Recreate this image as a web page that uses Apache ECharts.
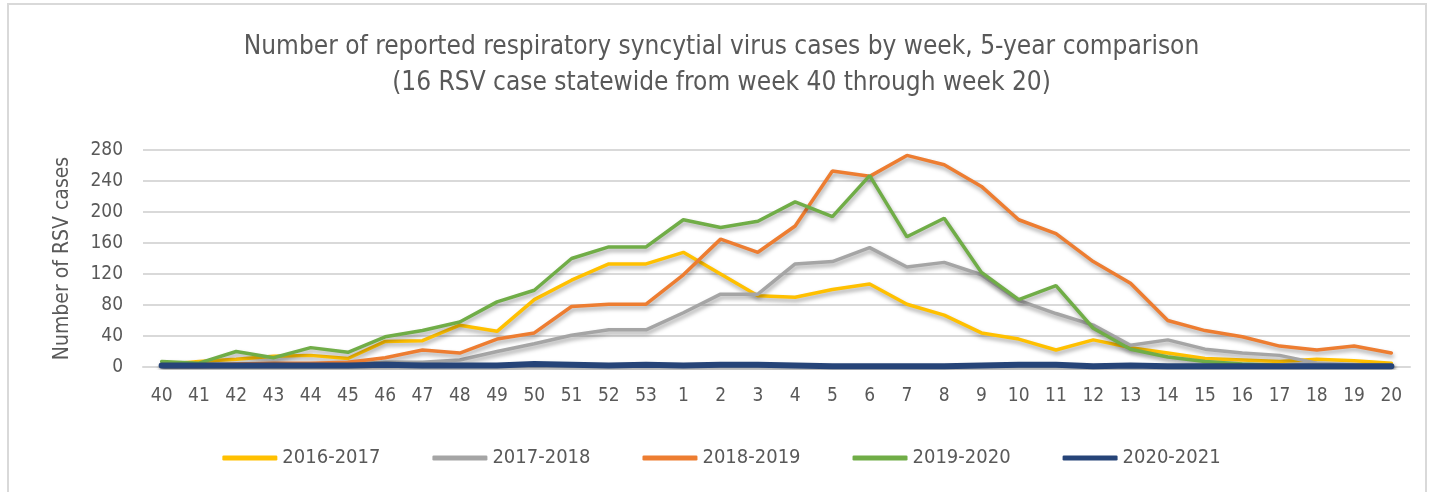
<!DOCTYPE html>
<html>
<head>
<meta charset="utf-8">
<script src="https://cdn.jsdelivr.net/npm/echarts@6/dist/echarts.min.js"></script>
<style>
  html, body { margin: 0; padding: 0; background: #fff; }
  #myChart { width: 1443px; height: 492px; }
</style>
</head>
<body>
<div id="myChart"></div>
<script>
// week labels (season runs week 40 through week 20)
var weeks = ['40', '41', '42', '43', '44', '45', '46', '47', '48', '49', '50', '51', '52', '53',
  '1', '2', '3', '4', '5', '6', '7', '8', '9', '10', '11', '12', '13', '14', '15', '16', '17', '18', '19', '20'];
var yTicks = [0, 40, 80, 120, 160, 200, 240, 280];

var s2016 = [3, 7, 10, 14, 15, 11, 33, 34, 54, 46, 87, 112, 133, 133, 148, 120, 92, 90, 100, 107, 81, 67, 44, 36, 22, 35, 25, 18, 11, 9, 7, 10, 8, 5];
var s2017 = [2, 2, 3, 3, 4, 4, 6, 6, 9, 20, 30, 41, 48, 48, 70, 94, 94, 133, 136, 154, 129, 135, 119, 86, 69, 54, 28, 35, 23, 18, 15, 5, 3, 2];
var s2018 = [1, 2, 4, 5, 5, 6, 12, 22, 18, 36, 44, 78, 81, 81, 119, 165, 148, 182, 253, 246, 273, 261, 233, 190, 172, 136, 108, 60, 47, 39, 27, 22, 27, 18];
var s2019 = [7, 5, 20, 12, 25, 19, 39, 47, 58, 84, 99, 140, 155, 155, 190, 180, 188, 213, 194, 247, 168, 192, 122, 87, 105, 50, 23, 13, 7, 4, 2, 1, 1, 1];
var s2020 = [2, 2, 2, 2, 2, 2, 3, 2, 2, 2, 4, 3, 2, 3, 2, 3, 3, 2, 1, 1, 1, 1, 2, 3, 3, 1, 2, 1, 1, 1, 1, 1, 1, 1];

var FONT = "'DejaVu Sans Condensed', 'Liberation Sans Narrow', sans-serif";
var TXT = '#595959';

function line(name, data, color, width) {
  return {
    name: name,
    type: 'line',
    data: data,
    symbol: 'none',
    lineStyle: {
      color: color,
      width: width,
      cap: 'round',
      shadowColor: 'rgba(0,0,0,0.35)',
      shadowBlur: 4,
      shadowOffsetX: 1,
      shadowOffsetY: 3
    },
    itemStyle: { color: color }
  };
}

var myChart = echarts.init(document.getElementById('myChart'));
var option = {
  animation: false,
  textStyle: { fontFamily: FONT },
  graphic: [{
    type: 'rect',
    shape: { x: 8, y: 4, width: 1418, height: 500 },
    style: { fill: 'none', stroke: '#D9D9D9', lineWidth: 2 }
  }],
  title: {
    text: 'Number of reported respiratory syncytial virus cases by week, 5-year comparison\n(16 RSV case statewide from week 40 through week 20)',
    left: 'center',
    top: 24,
    textStyle: { fontFamily: FONT, fontSize: 26, fontWeight: 'normal', color: TXT, lineHeight: 36 }
  },
  legend: {
    bottom: 19,
    left: 'center',
    itemWidth: 55,
    itemHeight: 5,
    itemGap: 52,
    icon: 'roundRect',
    textStyle: { fontFamily: FONT, fontSize: 20, color: TXT },
    data: ['2016-2017', '2017-2018', '2018-2019', '2019-2020',
      { name: '2020-2021', itemStyle: { color: '#264478' } }]
  },
  grid: { left: 143, right: 33, top: 150, bottom: 125 },
  xAxis: {
    type: 'category',
    data: weeks,
    boundaryGap: true,
    axisTick: { show: false },
    axisLine: { lineStyle: { color: '#D9D9D9', width: 2 } },
    axisLabel: { color: TXT, fontSize: 19, margin: 20, interval: 0, fontFamily: FONT }
  },
  yAxis: {
    type: 'value',
    min: yTicks[0],
    max: yTicks[yTicks.length - 1],
    interval: 40,
    name: 'Number of RSV cases',
    nameLocation: 'middle',
    nameGap: 70,
    nameTextStyle: { color: TXT, fontSize: 21, fontFamily: FONT },
    axisLine: { show: false },
    axisTick: { show: false },
    axisLabel: { color: TXT, fontSize: 19, margin: 20, fontFamily: FONT },
    splitLine: { lineStyle: { color: '#D9D9D9', width: 2 } }
  },
  series: [
    line('2016-2017', s2016, '#FFC000', 3.5),
    line('2017-2018', s2017, '#A5A5A5', 3.5),
    line('2018-2019', s2018, '#ED7D31', 3.5),
    line('2019-2020', s2019, '#70AD47', 3.5),
    line('2020-2021', s2020, '#264478', 6)
  ]
};
myChart.setOption(option);
</script>
</body>
</html>
